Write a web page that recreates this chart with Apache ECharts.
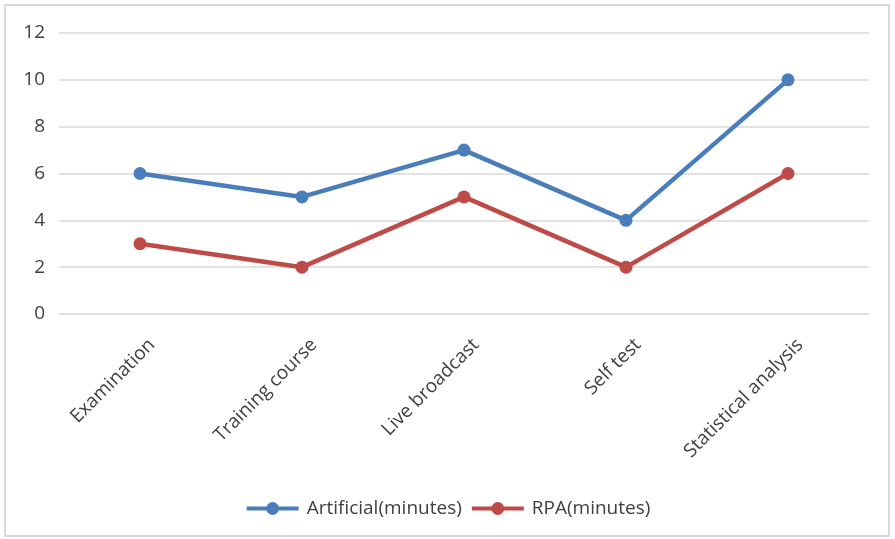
<!DOCTYPE html>
<html>
<head>
<meta charset="utf-8">
<script src="https://cdn.jsdelivr.net/npm/echarts@6/dist/echarts.min.js"></script>
<style>
  html, body { margin: 0; padding: 0; background: #fff; }
  #frame { position: absolute; left: 4px; top: 4px; width: 882px; height: 529px; border: 2px solid #d9d9d9; }
  #chart { position: absolute; left: 0; top: 0; width: 895px; height: 539px; }
</style>
</head>
<body>
<div id="frame"></div>
<div id="chart"></div>
<script>
  // data
  var categories = ['Examination', 'Training course', 'Live broadcast', 'Self test', 'Statistical analysis'];
  var artificial = [6, 5, 7, 4, 10];
  var rpa = [3, 2, 5, 2, 6];
  var seriesNames = ['Artificial(minutes)', 'RPA(minutes)'];

  var font = '"Open Sans", "Liberation Sans", sans-serif';
  var chart = echarts.init(document.getElementById('chart'));

  function lineSeries(name, data, color) {
    return {
      name: name,
      type: 'line',
      data: data,
      symbol: 'circle',
      symbolSize: 13,
      lineStyle: { width: 4.5, color: color },
      itemStyle: { color: color },
      emphasis: { disabled: true }
    };
  }

  chart.setOption({
    animation: false,
    color: ['#4a7ebb', '#be4b48'],
    grid: { left: 59, right: 26, top: 33, bottom: 225 },
    legend: {
      bottom: 16,
      left: 'center',
      itemWidth: 52,
      itemHeight: 16,
      itemGap: 8,
      lineStyle: { width: 4 },
      textStyle: { fontFamily: font, fontSize: 19, color: '#404040', padding: [0, 0, 0, 3] },
      data: seriesNames
    },
    xAxis: {
      type: 'category',
      data: categories,
      boundaryGap: true,
      axisLine: { show: false },
      axisTick: { show: false },
      axisLabel: {
        rotate: 45,
        margin: 40,
        padding: [0, -17, 0, 0],
        fontFamily: font,
        fontSize: 19,
        color: '#404040'
      }
    },
    yAxis: {
      type: 'value',
      min: 0,
      max: 12,
      interval: 2,
      axisLine: { show: false },
      axisTick: { show: false },
      splitLine: { lineStyle: { color: '#d9d9d9', width: 1.5 } },
      axisLabel: {
        margin: 14,
        fontFamily: font,
        fontSize: 19,
        color: '#404040'
      }
    },
    series: [
      lineSeries(seriesNames[0], artificial, '#4a7ebb'),
      lineSeries(seriesNames[1], rpa, '#be4b48')
    ]
  });
</script>
</body>
</html>
